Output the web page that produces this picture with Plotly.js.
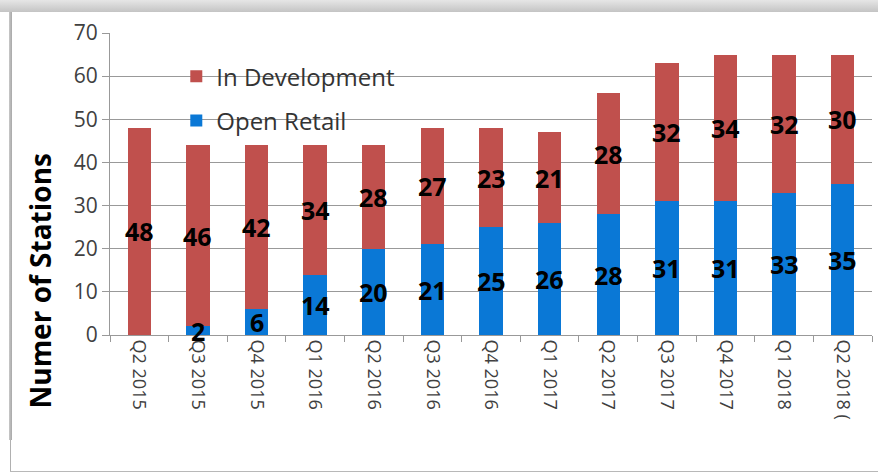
<!DOCTYPE html>
<html>
<head>
<meta charset="utf-8">
<script src="https://cdn.plot.ly/plotly-3.0.1.min.js"></script>
<style>
  html, body { margin: 0; padding: 0; background: #ffffff; }
  #wrap { position: relative; width: 878px; height: 473px; overflow: hidden; background: #fff; }
  #topband { position: absolute; left: 0; top: 0; width: 878px; height: 12px;
    background: linear-gradient(#e6e6e6, #c4c4c4); }
  #leftline { position: absolute; left: 9px; top: 12px; width: 3px; height: 428px; background: linear-gradient(90deg,#c8c8c8,#a8a8a8); }
  #leftline2 { position: absolute; left: 10px; top: 440px; width: 1px; height: 32px; background: #b0b0b0; }
  #bottomline { position: absolute; left: 10px; top: 471px; width: 868px; height: 1px; background: #b8b8b8; }
  #chart { position: absolute; left: 0; top: 0; width: 878px; height: 473px; }
</style>
</head>
<body>
<div id="wrap">
  <div id="topband"></div>
  <div id="leftline"></div>
  <div id="leftline2"></div>
  <div id="bottomline"></div>
  <div id="chart"></div>
</div>
<script>
const categories = ["Q2 2015","Q3 2015","Q4 2015","Q1 2016","Q2 2016","Q3 2016","Q4 2016","Q1 2017","Q2 2017","Q3 2017","Q4 2017","Q1 2018","Q2 2018 ("];
const openRetail = [0, 2, 6, 14, 20, 21, 25, 26, 28, 31, 31, 33, 35];
const openRetailLabels = ["", "2", "6", "14", "20", "21", "25", "26", "28", "31", "31", "33", "35"];
const inDevelopment = [48, 42, 38, 30, 24, 27, 23, 21, 28, 32, 34, 32, 30];
const inDevelopmentLabels = ["48", "46", "42", "34", "28", "27", "23", "21", "28", "32", "34", "32", "30"];

const FONT = "'Open Sans', 'Liberation Sans', sans-serif";
const labelFont = { family: FONT, size: 25, color: "#000000", weight: "bold" };

const traces = [
  {
    type: "bar", name: "Open Retail", x: categories, y: openRetail,
    marker: { color: "#0A78D6" }, legendgroup: "b", legendrank: 2, hoverinfo: "none"
  },
  {
    type: "bar", name: "In Development", x: categories, y: inDevelopment,
    marker: { color: "#C0504D" }, legendgroup: "a", legendrank: 1, hoverinfo: "none"
  }
];

// data labels placed at the middle of each stacked segment
const labelAnnotations = [];
categories.forEach((c, i) => {
  if (openRetailLabels[i] !== "") {
    labelAnnotations.push({ x: c, y: openRetail[i] / 2, xref: "x", yref: "y",
      text: openRetailLabels[i], showarrow: false, font: labelFont,
      xanchor: "center", yanchor: "middle" });
  }
  labelAnnotations.push({ x: c, y: openRetail[i] + inDevelopment[i] / 2, xref: "x", yref: "y",
    text: inDevelopmentLabels[i], showarrow: false, font: labelFont,
    xanchor: "center", yanchor: "middle" });
});

const layout = {
  width: 878, height: 473,
  margin: { l: 110, r: 6, t: 33, b: 138 },
  paper_bgcolor: "rgba(0,0,0,0)", plot_bgcolor: "rgba(0,0,0,0)",
  barmode: "stack", bargap: 0.6,
  showlegend: true,
  legend: {
    x: 0.087, xanchor: "left", y: 0.93, yanchor: "top",
    traceorder: "grouped", tracegroupgap: 10,
    bgcolor: "rgba(0,0,0,0)",
    font: { family: FONT, size: 24, color: "#333333" }
  },
  xaxis: {
    type: "category", tickangle: 90, tickson: "boundaries",
    ticks: "outside", ticklen: 6, tickcolor: "#999999",
    showline: true, linecolor: "#999999", linewidth: 1,
    showgrid: false,
    tickfont: { family: FONT, size: 18, color: "#404040" }
  },
  yaxis: {
    range: [0, 70], dtick: 10, tick0: 0,
    ticks: "outside", ticklen: 7, tickcolor: "#999999",
    showline: true, linecolor: "#999999", linewidth: 1,
    showgrid: true, gridcolor: "#999999", gridwidth: 1,
    zeroline: false,
    tickfont: { family: FONT, size: 21, color: "#404040" }
  },
  shapes: [
    { type: "rect", layer: "between", xref: "paper", yref: "y",
      x0: 0.055, x1: 0.42, y0: 46, y1: 66,
      fillcolor: "#ffffff", line: { width: 0 } }
  ],
  annotations: labelAnnotations.concat([
    { text: "Numer of Stations", xref: "paper", yref: "paper",
      x: -0.092, y: 0.18, xanchor: "center", yanchor: "middle",
      textangle: -90, showarrow: false,
      font: { family: FONT, size: 28, color: "#000000", weight: "bold" } }
  ])
};

Plotly.newPlot("chart", traces, layout, { displayModeBar: false, staticPlot: true });
</script>
</body>
</html>
